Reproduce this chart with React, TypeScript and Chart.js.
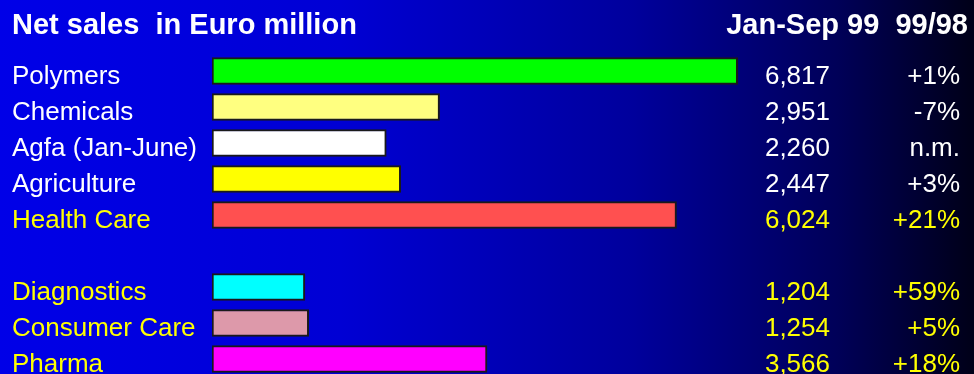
import React, { useEffect, useRef } from "react";
import { Chart, registerables } from "chart.js";

Chart.register(...registerables);

const categories = ["Polymers", "Chemicals", "Agfa (Jan-June)", "Agriculture", "Health Care", "", "Diagnostics", "Consumer Care", "Pharma"];
const sales = [6817, 2951, 2260, 2447, 6024, null, 1204, 1254, 3566];
const salesLabels = ["6,817", "2,951", "2,260", "2,447", "6,024", "", "1,204", "1,254", "3,566"];
const changes = ["+1%", "-7%", "n.m.", "+3%", "+21%", "", "+59%", "+5%", "+18%"];

const barColors = ["#00ff00", "#ffff80", "#ffffff", "#ffff00", "#ff5050", "#000000", "#00ffff", "#dd99aa", "#ff00ff"];
const textColors = ["#ffffff", "#ffffff", "#ffffff", "#ffffff", "#ffff00", "#ffff00", "#ffff00", "#ffff00", "#ffff00"];

const FONT = '"Liberation Sans", Arial, sans-serif';

const textPlugin = {
  id: "rowText",
  afterDraw(chart: any) {
    const ctx = chart.ctx;
    const y = chart.scales.y;
    ctx.save();
    ctx.font = `26px ${FONT}`;
    ctx.textBaseline = "alphabetic";
    categories.forEach((c, i) => {
      if (!c) return;
      const py = y.getPixelForValue(i) + 13;
      ctx.fillStyle = textColors[i];
      ctx.textAlign = "left";
      ctx.fillText(c, 12, py);
      ctx.textAlign = "right";
      ctx.fillText(salesLabels[i], 830, py);
      ctx.fillText(changes[i], 960, py);
    });
    ctx.restore();
  },
};

export default function App() {
  const ref = useRef<HTMLCanvasElement>(null);
  useEffect(() => {
    if (!ref.current) return;
    const chart = new Chart(ref.current, {
      type: "bar",
      data: {
        labels: categories,
        datasets: [
          {
            data: sales as any,
            backgroundColor: barColors,
            borderColor: "#1a1a1a",
            borderWidth: 2,
            borderSkipped: false,
            barThickness: 27,
          },
        ],
      },
      options: {
        indexAxis: "y",
        responsive: false,
        animation: false,
        layout: { padding: { left: 212, right: 68, top: 53, bottom: 3 } },
        plugins: { legend: { display: false }, tooltip: { enabled: false }, title: { display: false } },
        scales: {
          x: { display: false, min: 0, max: 9000, grid: { display: false } },
          y: { display: false, grid: { display: false }, offset: true },
        },
      },
      plugins: [textPlugin],
    });
    return () => chart.destroy();
  }, []);

  const headStyle: React.CSSProperties = {
    position: "absolute",
    top: 8,
    fontFamily: FONT,
    fontWeight: "bold",
    fontSize: 29,
    color: "#ffffff",
    whiteSpace: "pre",
    lineHeight: "32px",
  };

  return (
    <div
      style={{
        position: "fixed",
        left: 0,
        top: 0,
        width: 974,
        height: 374,
        overflow: "hidden",
        background: "linear-gradient(to right, #0000e8 0%, #0000d4 35%, #00009c 65%, #000058 86%, #000018 100%)",
      }}
    >
      <canvas ref={ref} width={974} height={380} style={{ position: "absolute", left: 0, top: 0 }} />
      <div style={{ ...headStyle, left: 12 }}>Net sales  in Euro million</div>
      <div style={{ ...headStyle, right: 6 }}>Jan-Sep 99  99/98</div>
    </div>
  );
}
